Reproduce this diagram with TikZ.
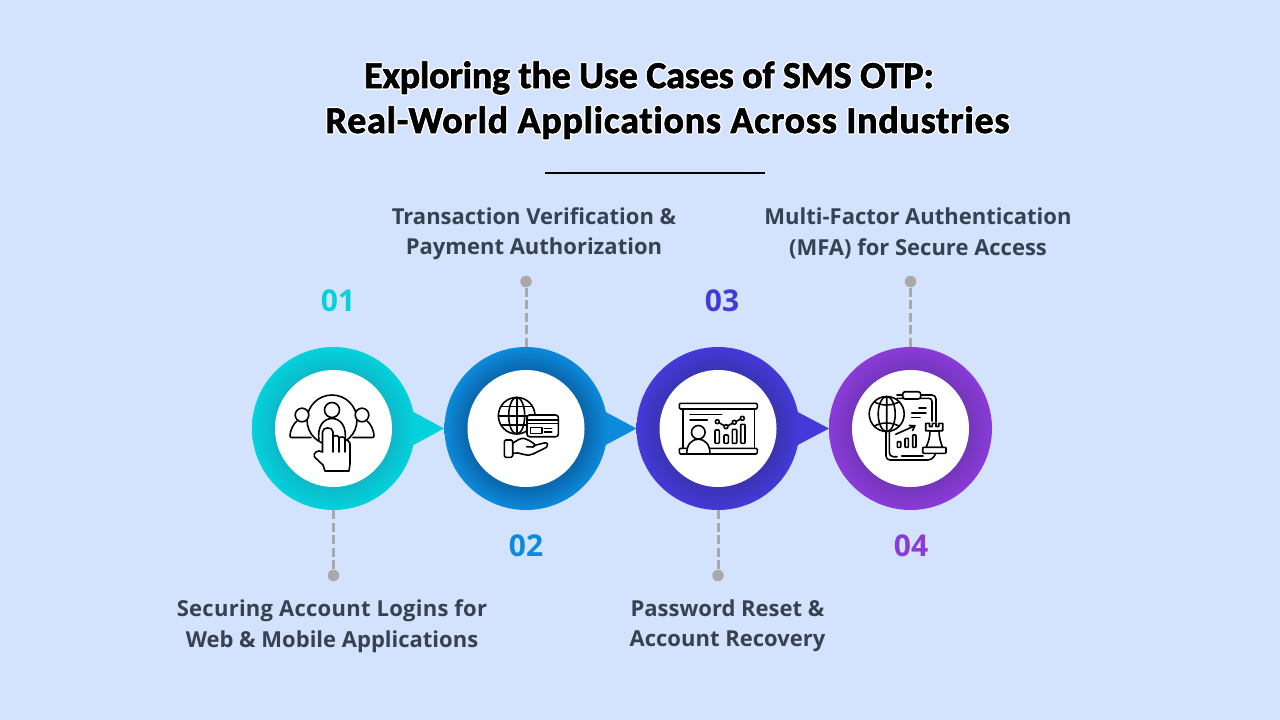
\documentclass[tikz,border=0pt]{standalone}
\usepackage{fontspec}
\setmainfont{Open Sans}
\newfontfamily\titlefont[Ligatures=NoCommon]{Carlito}
\definecolor{bgc}{HTML}{D3E3FD}
\definecolor{labelc}{HTML}{374151}
\definecolor{dashc}{HTML}{A9A9A9}
\definecolor{tealA}{HTML}{03D2DC}\definecolor{tealB}{HTML}{0DB9C9}
\definecolor{blueA}{HTML}{0C8ADB}\definecolor{blueB}{HTML}{0A66AC}
\definecolor{indA}{HTML}{4539D8}\definecolor{indB}{HTML}{3A34B4}
\definecolor{purA}{HTML}{8A3BD8}\definecolor{purB}{HTML}{7436BC}
\pgfdeclareradialshading{ringteal}{\pgfpointorigin}{color(0bp)=(tealB);color(18bp)=(tealB);color(25bp)=(tealA);color(50bp)=(tealA)}
\pgfdeclareradialshading{ringblue}{\pgfpointorigin}{color(0bp)=(blueB);color(18bp)=(blueB);color(25bp)=(blueA);color(50bp)=(blueA)}
\pgfdeclareradialshading{ringind}{\pgfpointorigin}{color(0bp)=(indB);color(18bp)=(indB);color(25bp)=(indA);color(50bp)=(indA)}
\pgfdeclareradialshading{ringpur}{\pgfpointorigin}{color(0bp)=(purB);color(18bp)=(purB);color(25bp)=(purA);color(50bp)=(purA)}
\newcommand{\halotext}[1]{\rlap{\special{pdf:literal direct 1 1 1 RG 3.6 w 1 j 1 J 1 Tr}#1\special{pdf:literal direct 0 Tr 0 0 0 RG}}\special{pdf:literal direct 0 0 0 RG 0.7 w 1 j 2 Tr}#1\special{pdf:literal direct 0 Tr}}
\tikzset{
 x=1pt,y=-1pt,
 titletext/.style={font=\titlefont\bfseries\fontsize{38}{38}\selectfont,text=black,anchor=base,inner sep=0},
 numtext/.style={font=\bfseries\fontsize{30}{30}\selectfont,inner sep=0},
 labeltext/.style={font=\bfseries\fontsize{22}{30.5}\selectfont,text=labelc,align=center,inner sep=0},
 ringnode/.style={circle,minimum size=163pt,inner sep=0,draw=none},
 holenode/.style={circle,minimum size=117pt,inner sep=0,fill=white,draw=none},
 dotnode/.style={circle,minimum size=11.5pt,inner sep=0,fill=dashc,draw=none},
 dashline/.style={draw=dashc,line width=3pt,dash pattern=on 9pt off 3.5pt},
 tipshape/.style={draw=none},
 icon/.style={draw=black,line width=1.6pt,line cap=round,line join=round},
 iconw/.style={icon,fill=white},
}
\begin{document}
\begin{tikzpicture}
\useasboundingbox (0,0) rectangle (1280,720);
\fill[bgc] (0,0) rectangle (1280,720);
% title
\node[titletext] (t1) at (649,88) {\addfontfeature{LetterSpace=-0.5}\halotext{Exploring the Use Cases of SMS OTP:}};
\node[titletext] (t2) at (667.5,133) {\addfontfeature{LetterSpace=2}\halotext{Real-World Applications Across Industries}};
\coordinate (ruleL) at (545,172.5);
\coordinate (ruleR) at (765,172.5);
\draw[black,line width=2pt] (ruleL) -- (ruleR);
% pointers
\fill[tealA,tipshape] (408,409) -- (444,428.5) -- (408,448) -- cycle;
\fill[blueA,tipshape] (600,409) -- (636.5,428.5) -- (600,448) -- cycle;
\fill[indA,tipshape] (792,409) -- (829,428.5) -- (792,448) -- cycle;
% rings
\node[ringnode,shading=ringteal] (r1) at (333.5,428.5) {};
\node[ringnode,shading=ringblue] (r2) at (526,428.5) {};
\node[ringnode,shading=ringind] (r3) at (718,428.5) {};
\node[ringnode,shading=ringpur] (r4) at (910.5,428.5) {};
\node[holenode] (h1) at (r1) {};
\node[holenode] (h2) at (r2) {};
\node[holenode] (h3) at (r3) {};
\node[holenode] (h4) at (r4) {};
% dots and connectors
\node[dotnode] (d1) at (333.5,575.5) {};
\node[dotnode] (d2) at (526,281.5) {};
\node[dotnode] (d3) at (718,575.5) {};
\node[dotnode] (d4) at (910.5,281.5) {};
\draw[dashline] (r1.south) -- (d1);
\draw[dashline] (r2.north) -- (d2);
\draw[dashline] (r3.south) -- (d3);
\draw[dashline] (r4.north) -- (d4);
% numbers
\node[numtext,text=tealA] (n1) at (338,300.5) {01};
\node[numtext,text=blueA] (n2) at (526,546) {02};
\node[numtext,text=indA] (n3) at (722,300.5) {03};
\node[numtext,text=purA] (n4) at (911,546) {04};
% labels
\node[labeltext] (l1) at (332,626) {{\addfontfeature{LetterSpace=1.2}Securing Account Logins for}\\Web \& Mobile Applications};
\node[labeltext] (l2) at (534,233.5) {Transaction Verification \&\\Payment Authorization};
\node[labeltext] (l3) at (727.5,626) {Password Reset \&\\Account Recovery};
\node[labeltext] (l4) at (918,233.5) {Multi-Factor Authentication\\(MFA) for Secure Access};
% icon 1
\draw[icon] (332,420) circle (25);
\draw[iconw] (332,410) circle (7.5);
\draw[iconw] (319,441) .. controls (317,427) and (323,418.5) .. (332,418.5) .. controls (341,418.5) and (347,427) .. (345,441);
\draw[iconw] (302,415) circle (6.8);
\draw[icon] (297,421) .. controls (293,424) and (290,431) .. (290,436) .. controls (290,437.5) and (291,437.5) .. (292,437.5) -- (311,437.5);
\draw[iconw] (362,415) circle (6.8);
\draw[icon] (367,421) .. controls (371,424) and (374,431) .. (374,436) .. controls (374,437.5) and (373,437.5) .. (372,437.5) -- (353,437.5);
\draw[iconw] (322.5,452) -- (322.5,432) .. controls (322.5,426.5) and (333,426.5) .. (333,432) -- (333,437) .. controls (334,435) and (339,435) .. (339,438) .. controls (340,436.5) and (345,436.5) .. (345,439) .. controls (346,440) and (350,441) .. (350,444) -- (350,464) .. controls (350,467) and (349,468) .. (349,471) -- (325,471) -- (323,465) -- (314.5,457) .. controls (312.5,453) and (318,449) .. (322.5,452) -- cycle;
\draw[icon] (333,437) -- (333,452) (339,438) -- (339,452) (345,439) -- (345,452);
% icon 2
\draw[icon] (516.7,415.7) circle (18.3);
\draw[icon] (516.7,415.7) ellipse (8 and 18.3);
\draw[icon] (516.7,397.4) -- (516.7,434) (498.4,415.7) -- (535,415.7) (501,406.5) -- (532.4,406.5) (501,425) -- (532.4,425);
\draw[iconw,rounded corners=2.5pt] (527,415) rectangle (558.3,436.7);
\draw[icon] (527,420) -- (558.3,420) (527,423.3) -- (558.3,423.3);
\draw[icon] (530.5,427.3) rectangle (541.7,433.3);
\draw[icon] (544.5,428.3) -- (551.7,428.3) (544.5,431.8) -- (551.7,431.8);
\draw[icon,rounded corners=1.5pt] (504.3,440) rectangle (512.7,457.3);
\draw[icon] (512.7,443.3) .. controls (516,441) and (520,438.3) .. (523.3,438.3) .. controls (527,439) and (531,441.5) .. (533,443) .. controls (536,444.5) and (535.5,447) .. (533,447) -- (526.7,446.7) (534,445.5) -- (545,442.8) .. controls (548,442.5) and (548.5,446) .. (546.5,447.3) -- (533,454) .. controls (530,455.5) and (527,455.5) .. (524,454.5) -- (518,453) -- (512.7,453.3);
% icon 3
\draw[icon] (682.7,409) -- (682.7,448.3) (754.3,409) -- (754.3,448.3);
\draw[icon,rounded corners=1.2pt] (679.3,403.3) rectangle (757.3,409);
\draw[icon,rounded corners=1.2pt] (679.3,448.3) rectangle (757.3,454);
\draw[icon] (690,414.3) -- (721.7,414.3) (690,420) -- (707.3,420);
\draw[iconw] (698.3,432.3) circle (6.8);
\draw[iconw] (686.7,454) .. controls (686.7,445) and (691,439.3) .. (698.3,439.3) .. controls (705.6,439.3) and (710,445) .. (710,454) -- cycle;
\draw[icon,rounded corners=.8pt] (715,430) rectangle (719.3,443.3);
\draw[icon,rounded corners=.8pt] (724,435) rectangle (728.3,443.3);
\draw[icon,rounded corners=.8pt] (732.3,429.3) rectangle (736.7,443.3);
\draw[icon,rounded corners=.8pt] (740.7,424.3) rectangle (745,443.3);
\draw[icon] (717.3,421.7) -- (726,426.7) -- (734.3,422.3) -- (742.3,418.3);
\draw[iconw] (717.3,421.7) circle (2) (726,426.7) circle (2) (734.3,422.3) circle (2) (742.3,418.3) circle (2);
% icon 4
\draw[icon,rounded corners=4pt] (886,428) -- (886,460) -- (932,460) -- (936,453);
\draw[icon,rounded corners=4pt] (889.3,428) -- (889.3,456.7) -- (897,456.7);
\draw[icon] (901.7,456) -- (923,456);
\draw[icon,rounded corners=4pt] (897,395) -- (936,395) -- (936,422);
\draw[icon,rounded corners=3pt] (897,398.3) -- (932,398.3) -- (932,421);
\draw[iconw,rounded corners=2.5pt] (902.7,391.7) rectangle (920.7,399);
\draw[iconw] (886.7,414) circle (17.5);
\draw[icon] (886.7,414) ellipse (8.5 and 17.5);
\draw[icon] (886.7,396.5) -- (886.7,431.5) (874.5,402) .. controls (882,406) and (891,406) .. (899,402) (874.5,426) .. controls (882,422) and (891,422) .. (899,426);
\draw[icon] (919,408) -- (926,408) (911.7,412.7) -- (926,412.7) (911.7,417.3) -- (920,417.3);
\draw[icon] (895.7,434.3) -- (915,425.7) -- (909.5,425.5) (915,425.7) -- (912.5,430.5);
\draw[icon,rounded corners=.6pt] (897.3,441.7) rectangle (900.7,447.3);
\draw[icon,rounded corners=.6pt] (905,438.3) rectangle (908.3,447.3);
\draw[icon,rounded corners=.6pt] (912.7,435) rectangle (916,447.3);
\draw[iconw] (925.7,423.3) -- (929.5,423.3) -- (929.5,426.5) -- (932.3,426.5) -- (932.3,423.3) -- (936,423.3) -- (936,426.5) -- (938.9,426.5) -- (938.9,423.3) -- (942.7,423.3) -- (942.7,430.7) -- (939,430.7) .. controls (939,438) and (941,443) .. (942.5,447.3) -- (926,447.3) .. controls (928,443) and (930,438) .. (930,430.7) -- (925.7,430.7) -- cycle;
\draw[icon] (930,430.7) -- (939,430.7);
\draw[iconw,rounded corners=.8pt] (922.7,447.3) rectangle (946,453.3);
\end{tikzpicture}
\end{document}
